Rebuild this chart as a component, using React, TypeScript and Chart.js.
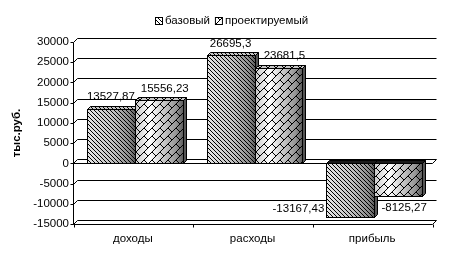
import React, { useEffect, useRef } from 'react';
import { Chart, registerables } from 'chart.js';

Chart.register(...registerables);

const categories = ['доходы', 'расходы', 'прибыль'];
const seriesNames = ['базовый', 'проектируемый'];
const baseValues = [13527.87, 26695.3, -13167.43];
const projectedValues = [15556.23, 23681.5, -8125.27];
const yMin = -15000;
const yMax = 30000;
const yStep = 5000;
const yAxisTitle = 'тыс.руб.';

const FONT = '"Liberation Sans", Arial, sans-serif';
const FS = 11.5;
const D = 4; // 3D depth offset
const BAR_DX = 2;

function makeHatch(ctx: CanvasRenderingContext2D) {
  const c = document.createElement('canvas');
  c.width = 4; c.height = 4;
  const g = c.getContext('2d')!;
  g.fillStyle = '#000';
  for (let i = 0; i < 4; i++) g.fillRect(i, i, 1, 1);
  return ctx.createPattern(c, 'repeat')!;
}

function makeLattice(ctx: CanvasRenderingContext2D) {
  const N = 16;
  const c = document.createElement('canvas');
  c.width = N; c.height = N;
  const g = c.getContext('2d')!;
  g.fillStyle = '#000';
  for (let x = 0; x < N; x++) {
    for (let y = 0; y < N; y++) {
      const u = (x + y) % N;
      const v = (((x - y) % 16) + 16) % 16;
      const band = Math.floor(u / 8) % 2;
      if (u % 8 === 7 || (band === 0 ? v === 0 : v === 8)) g.fillRect(x, y, 1, 1);
    }
  }
  return ctx.createPattern(c, 'repeat')!;
}

const fmt = (v: number) => String(v).replace('.', ',');

const chart3D = {
  id: 'chart3D',
  beforeDatasetsDraw(chart: any) {
    const { ctx, chartArea } = chart;
    const y = chart.scales.y;
    const L = Math.round(chartArea.left) + 0.5;
    const R = Math.round(chartArea.right) + 0.5;
    const T = Math.round(chartArea.top) + 0.5;
    const B = Math.round(chartArea.bottom) + 0.5;
    ctx.save();
    ctx.strokeStyle = '#000';
    ctx.lineWidth = 1;
    ctx.beginPath();
    for (let v = yMin; v <= yMax; v += yStep) {
      const yp = Math.round(y.getPixelForValue(v)) + 0.5;
      ctx.moveTo(L - 3, yp); ctx.lineTo(L, yp);
      ctx.moveTo(L, yp); ctx.lineTo(L + D, yp - D);
      ctx.lineTo(R + D, yp - D);
    }
    ctx.moveTo(L, T); ctx.lineTo(L, B);
    ctx.moveTo(L, B); ctx.lineTo(R, B); ctx.lineTo(R + D, B - D);
    const y0 = Math.round(y.getPixelForValue(0)) + 0.5;
    ctx.moveTo(L, y0); ctx.lineTo(R, y0); ctx.lineTo(R + D, y0 - D);
    const n = categories.length;
    for (let i = 0; i <= n; i++) {
      const xp = Math.round(L + (i * (R - L)) / n) + 0.5;
      ctx.moveTo(xp, B); ctx.lineTo(xp, B + 3);
    }
    ctx.stroke();
    ctx.restore();
  },
  afterDatasetsDraw(chart: any) {
    const { ctx } = chart;
    const pats = [makeHatch(ctx), makeLattice(ctx)];
    ctx.save();
    ctx.lineWidth = 1;
    ctx.strokeStyle = '#000';
    const nCat = categories.length;
    for (let i = 0; i < nCat; i++) {
      chart.data.datasets.forEach((ds: any, di: number) => {
        const meta = chart.getDatasetMeta(di);
        const el: any = meta.data[i];
        const w = el.width;
        const l = Math.round(el.x - w / 2 + BAR_DX) + 0.5;
        const r = Math.round(el.x + w / 2 + BAR_DX) + 0.5;
        const t = Math.round(Math.min(el.y, el.base)) + 0.5;
        const b = Math.round(Math.max(el.y, el.base)) + 0.5;
        const neg = ds.data[i] < 0;
        ctx.beginPath();
        ctx.moveTo(r, t); ctx.lineTo(r + 3, t - 3); ctx.lineTo(r + 3, b - 3); ctx.lineTo(r, b); ctx.closePath();
        ctx.fillStyle = '#555';
        ctx.fill(); ctx.stroke();
        ctx.beginPath();
        ctx.moveTo(l, t); ctx.lineTo(l + 3, t - 3); ctx.lineTo(r + 3, t - 3); ctx.lineTo(r, t); ctx.closePath();
        ctx.fillStyle = neg ? '#1a1a1a' : '#c8c8c8';
        ctx.fill();
        if (!neg) { ctx.fillStyle = pats[di]; ctx.fill(); }
        ctx.stroke();
        const grad = ctx.createLinearGradient(l, 0, r, 0);
        if (di === 0) {
          grad.addColorStop(0, '#e6e6e6');
          grad.addColorStop(0.55, '#c0c0c0');
          grad.addColorStop(0.88, '#8a8a8a');
          grad.addColorStop(1, '#5a5a5a');
        } else {
          grad.addColorStop(0, '#c8c8c8');
          grad.addColorStop(0.3, '#ffffff');
          grad.addColorStop(0.85, '#959595');
          grad.addColorStop(1, '#5a5a5a');
        }
        ctx.fillStyle = grad;
        ctx.fillRect(l, t, r - l, b - t);
        ctx.fillStyle = pats[di];
        ctx.fillRect(l, t, r - l, b - t);
        ctx.strokeRect(l, t, r - l, b - t);
      });
    }
    ctx.fillStyle = '#000';
    ctx.font = `${FS}px ${FONT}`;
    ctx.textBaseline = 'middle';
    const bottom = chart.chartArea.bottom;
    chart.data.datasets.forEach((ds: any, di: number) => {
      const meta = chart.getDatasetMeta(di);
      meta.data.forEach((el: any, i: number) => {
        const v = ds.data[i];
        const cx = el.x + BAR_DX + (di === 1 ? 6 : 0);
        const txt = fmt(v);
        if (v >= 0) {
          ctx.textAlign = 'center';
          ctx.fillText(txt, cx, el.y - 12);
        } else {
          const ly = el.y + 12;
          if (ly > bottom - 14) {
            ctx.textAlign = 'right';
            ctx.fillText(txt, el.x + BAR_DX - el.width / 2 - 2, el.y - 8);
          } else {
            ctx.textAlign = 'center';
            ctx.fillText(txt, cx, ly);
          }
        }
      });
    });
    ctx.restore();
  },
  afterDraw(chart: any) {
    const { ctx } = chart;
    const pats = [makeHatch(ctx), makeLattice(ctx)];
    ctx.save();
    ctx.font = `${FS}px ${FONT}`;
    ctx.textBaseline = 'middle';
    ctx.textAlign = 'left';
    const box = 7, gapBox = 3, gapItem = 5;
    const widths = seriesNames.map((s) => ctx.measureText(s).width);
    const total = widths.reduce((a, w) => a + box + gapBox + w, 0) + gapItem * (seriesNames.length - 1);
    let x = Math.round(232 - total / 2);
    const cy = 21;
    seriesNames.forEach((s, i) => {
      ctx.fillStyle = '#fff';
      ctx.fillRect(x + 0.5, cy - 3.5, box, box);
      ctx.fillStyle = pats[i];
      ctx.fillRect(x + 0.5, cy - 3.5, box, box);
      ctx.strokeStyle = '#000';
      ctx.lineWidth = 1;
      ctx.strokeRect(x + 0.5, cy - 3.5, box, box);
      ctx.fillStyle = '#000';
      ctx.fillText(s, x + box + gapBox, cy);
      x += box + gapBox + widths[i] + gapItem;
    });
    ctx.restore();
  },
};

export default function App() {
  const ref = useRef<HTMLCanvasElement>(null);
  useEffect(() => {
    document.body.style.margin = '0';
    const chart = new Chart(ref.current!, {
      type: 'bar',
      data: {
        labels: categories,
        datasets: [
          { label: seriesNames[0], data: baseValues, backgroundColor: 'rgba(0,0,0,0)', borderWidth: 0 },
          { label: seriesNames[1], data: projectedValues, backgroundColor: 'rgba(0,0,0,0)', borderWidth: 0 },
        ],
      },
      options: {
        responsive: false,
        animation: false,
        events: [],
        layout: { padding: { top: 42, right: 26, left: 0, bottom: 0 } },
        plugins: { legend: { display: false }, tooltip: { enabled: false } },
        datasets: { bar: { categoryPercentage: 0.8, barPercentage: 1 } },
        scales: {
          x: {
            type: 'category',
            offset: true,
            grid: { display: false, drawTicks: false },
            border: { display: false },
            ticks: { color: '#000', font: { family: FONT, size: FS }, padding: 8, maxRotation: 0 },
            afterFit: (s: any) => { s.height = 42; },
          },
          y: {
            min: yMin,
            max: yMax,
            grid: { display: false, drawTicks: false },
            border: { display: false },
            ticks: {
              stepSize: yStep,
              color: '#000',
              font: { family: FONT, size: FS },
              padding: 4,
              callback: (v: any) => String(v),
            },
            title: {
              display: true,
              text: yAxisTitle,
              color: '#000',
              font: { family: FONT, size: FS, weight: 'bold' },
              padding: { top: 10, bottom: 0 },
            },
            afterFit: (s: any) => { s.width = 73; },
          },
        },
      },
      plugins: [chart3D],
    } as any);
    return () => chart.destroy();
  }, []);
  return (
    <div style={{ width: 458, height: 266, background: '#fff' }}>
      <canvas ref={ref} width={458} height={266} />
    </div>
  );
}
